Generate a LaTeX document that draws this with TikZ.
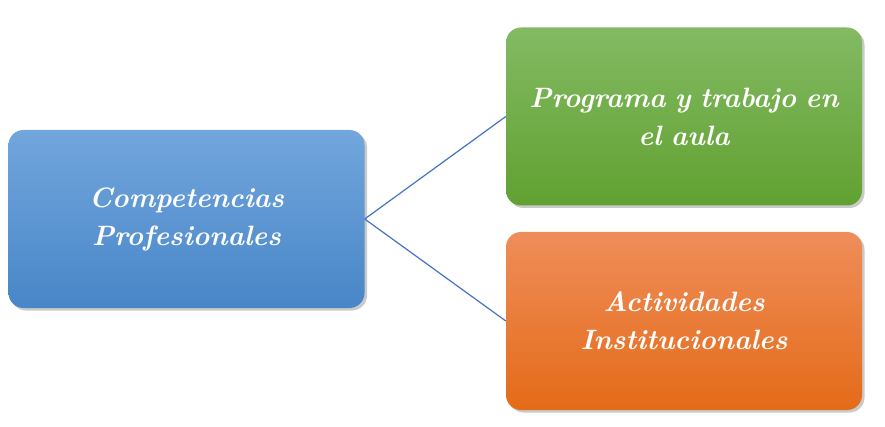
\documentclass[tikz,border=0pt]{standalone}
\usetikzlibrary{shadows}
\definecolor{bluetop}{HTML}{72A6DD}
\definecolor{bluebot}{HTML}{4886C8}
\definecolor{greentop}{HTML}{83BA63}
\definecolor{greenbot}{HTML}{61A131}
\definecolor{orangetop}{HTML}{EF8D5A}
\definecolor{orangebot}{HTML}{E46B18}
\definecolor{linkblue}{HTML}{4472C4}
\begin{document}
\begin{tikzpicture}[x=1pt,y=-1pt,
  box/.style={rectangle, rounded corners=15pt, draw=none, text=white,
    minimum width=356pt, minimum height=178pt, inner sep=0pt,
    align=center, text width=340pt,
    font=\fontsize{28}{38}\selectfont\bfseries\itshape,
    drop shadow={shadow xshift=2.5pt, shadow yshift=-2.5pt, opacity=0.35, fill=black!60}},
  bluebox/.style={box, top color=bluetop, bottom color=bluebot},
  greenbox/.style={box, top color=greentop, bottom color=greenbot},
  orangebox/.style={box, top color=orangetop, bottom color=orangebot},
  link/.style={draw=linkblue, line width=1.2pt}]
\useasboundingbox (0,0) rectangle (885,427);
\node[bluebox] (comp) at (186.5,219) {Competencias\\Profesionales};
\node[greenbox] (prog) at (684,116.5) {Programa y trabajo en\\el aula};
\node[orangebox] (act) at (684,321) {Actividades\\Institucionales};
\draw[link] (comp.east) -- (prog.west);
\draw[link] (comp.east) -- (act.west);
\end{tikzpicture}
\end{document}
